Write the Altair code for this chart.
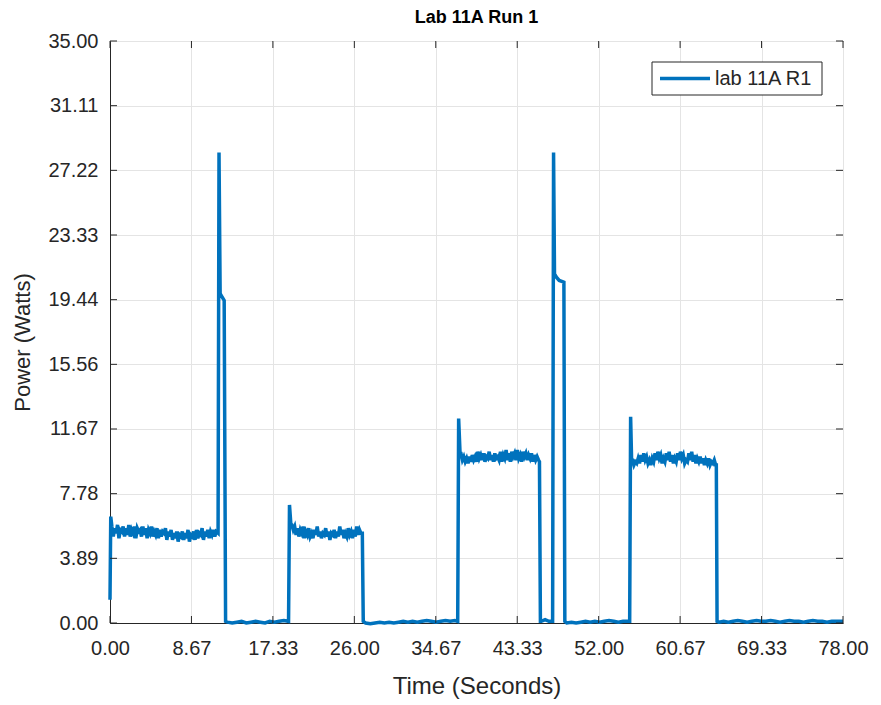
import altair as alt
import pandas as pd

# ---------------- data ----------------
series_name = "lab 11A R1"

x_ticks = [0.0, 8.6667, 17.3333, 26.0, 34.6667, 43.3333, 52.0, 60.6667, 69.3333, 78.0]
y_ticks = [0.0, 3.8889, 7.7778, 11.6667, 15.5556, 19.4444, 23.3333, 27.2222, 31.1111, 35.0]

# transition points (time s, power W)
edge_t = [0.0, 0.08, 11.5, 11.6, 11.72, 12.15, 12.3,
          19.0, 19.1, 19.25, 26.85, 26.95,
          37.0, 37.1, 37.25, 45.7, 45.8,
          47.1, 47.2, 47.3, 47.5, 47.8, 48.3, 48.4,
          55.3, 55.4, 55.5, 64.52, 64.6, 78.0]
edge_p = [1.4, 6.4, 5.4, 28.3, 19.8, 19.4, 0.1,
          0.1, 7.1, 5.9, 5.4, 0.1,
          0.1, 12.3, 10.2, 9.7, 0.1,
          0.1, 28.3, 21.0, 20.8, 20.6, 20.5, 0.1,
          0.1, 12.4, 9.9, 9.5, 0.1, 0.1]

# sampled stretches: (start time, sample interval, values)
plateau1_start, plateau1_dt = 0.2, 0.15
plateau1 = [5.8, 5.2, 5.7, 5.4, 5.9, 5.1, 5.6, 5.5, 5.8, 5.2,
            5.7, 5.3, 5.9, 5.2, 5.6, 5.4, 5.8, 5.1, 5.7, 5.5,
            5.6, 5.2, 5.8, 5.3, 5.7, 5.1, 5.6, 5.4, 5.8, 5.2,
            5.5, 5.3, 5.7, 5.1, 5.6, 5.2, 5.5, 5.4, 5.7, 5.0,
            5.5, 5.2, 5.6, 5.0, 5.4, 5.1, 5.5, 4.9, 5.3, 5.2,
            5.5, 5.0, 5.4, 5.1, 5.6, 4.9, 5.3, 5.2, 5.5, 5.0,
            5.6, 5.1, 5.4, 5.3, 5.7, 5.0, 5.5, 5.2, 5.6, 5.1,
            5.5, 5.3, 5.6, 5.2, 5.5]
idle1_start, idle1_dt = 12.5, 0.5
idle1 = [0.05, 0.0, 0.05, 0.1, 0.0, 0.05, 0.1, 0.05, 0.0, 0.1, 0.05, 0.1, 0.15]
plateau2_start, plateau2_dt = 19.35, 0.15
plateau2 = [5.9, 5.6, 5.8, 5.3, 5.7, 5.2, 5.6, 5.4, 5.8, 5.1,
            5.5, 5.3, 5.7, 5.2, 5.4, 5.1, 5.6, 5.3, 5.8, 5.2,
            5.5, 5.1, 5.4, 5.3, 5.7, 5.2, 5.5, 5.0, 5.4, 5.3,
            5.6, 5.1, 5.5, 5.2, 5.8, 5.3, 5.6, 5.1, 5.4, 5.2,
            5.7, 5.3, 5.5, 5.1, 5.6, 5.2, 5.8, 5.3, 5.6, 5.4]
idle2_start, idle2_dt = 27.2, 0.5
idle2 = [0.0, -0.05, 0.0, 0.05, 0.0, 0.05, 0.0, 0.05, 0.1, 0.05, 0.1, 0.05,
         0.1, 0.15, 0.1, 0.05, 0.1, 0.15, 0.1, 0.15]
plateau3_start, plateau3_dt = 37.35, 0.15
plateau3 = [10.2, 9.8, 10.0, 9.7, 9.9, 9.6, 10.0, 9.7, 10.1, 9.8,
            10.0, 9.7, 10.3, 9.9, 10.1, 9.8, 10.2, 9.7, 10.0, 9.9,
            10.3, 9.8, 10.1, 9.7, 10.2, 9.9, 10.0, 9.8, 10.3, 9.7,
            10.1, 9.9, 10.4, 9.8, 10.2, 9.7, 10.3, 10.0, 10.2, 9.8,
            10.4, 9.9, 10.1, 9.7, 10.3, 10.0, 10.2, 9.8, 10.1, 9.9,
            10.2, 9.7, 10.1, 9.8, 10.0, 9.8]
idle3_start, idle3_dt = 45.9, 0.4
idle3 = [0.1, 0.2, 0.1]
idle4_start, idle4_dt = 48.6, 0.5
idle4 = [0.0, 0.05, 0.0, 0.05, 0.1, 0.05, 0.1, 0.05, 0.1, 0.15, 0.1, 0.05, 0.1, 0.1]
plateau4_start, plateau4_dt = 55.6, 0.15
plateau4 = [9.8, 9.5, 9.7, 9.6, 9.9, 9.6, 10.1, 9.7, 10.2, 9.8,
            10.0, 9.6, 9.8, 9.5, 9.9, 9.7, 10.2, 9.8, 10.3, 9.9,
            10.1, 9.6, 9.9, 9.7, 10.2, 9.8, 10.3, 9.7, 10.1, 9.6,
            9.9, 9.7, 10.2, 9.8, 10.3, 9.9, 10.1, 9.6, 9.8, 9.7,
            10.2, 9.8, 10.3, 9.7, 10.1, 9.6, 9.9, 9.7, 10.0, 9.6,
            9.9, 9.5, 9.8, 9.6, 9.9, 9.5, 9.7, 9.6, 9.8, 9.5]
idle5_start, idle5_dt = 64.8, 0.5
idle5 = [0.05, 0.1, 0.05, 0.1, 0.15, 0.1, 0.05, 0.1, 0.15, 0.1, 0.1, 0.15, 0.1,
         0.05, 0.1, 0.15, 0.1, 0.1, 0.05, 0.1, 0.15, 0.1, 0.1, 0.05, 0.1, 0.1, 0.1]

stretches = [
    (plateau1_start, plateau1_dt, plateau1),
    (idle1_start, idle1_dt, idle1),
    (plateau2_start, plateau2_dt, plateau2),
    (idle2_start, idle2_dt, idle2),
    (plateau3_start, plateau3_dt, plateau3),
    (idle3_start, idle3_dt, idle3),
    (idle4_start, idle4_dt, idle4),
    (plateau4_start, plateau4_dt, plateau4),
    (idle5_start, idle5_dt, idle5),
]

rows = [{"t": t, "p": p} for t, p in zip(edge_t, edge_p)]
for t0, dt, vals in stretches:
    for i, v in enumerate(vals):
        rows.append({"t": round(t0 + i * dt, 4), "p": v})
df = pd.DataFrame(rows).sort_values("t").reset_index(drop=True)

# ---------------- styling ----------------
W, H = 733, 582
FONT = "Liberation Sans"
AX = "#262626"
BLUE = "#0072BD"
TICK = 7
LW = 3.5

x_scale = alt.Scale(domain=[0, 78], nice=False, zero=False)
y_scale = alt.Scale(domain=[0, 35], nice=False, zero=False)

x_axis = alt.Axis(values=x_ticks, format=".2f", title="Time (Seconds)",
                  grid=True, gridColor="#e4e4e4", ticks=False,
                  labelPadding=15, labelFontSize=20, labelFont=FONT,
                  labelColor=AX, domainColor=AX, labelFlush=False,
                  titleFontSize=24, titleFont=FONT, titleFontWeight="normal",
                  titleColor=AX, titleX=W / 2, titleY=63,
                  titleBaseline="middle", titleAnchor="middle")
y_axis = alt.Axis(values=y_ticks, format=".2f", title="Power (Watts)",
                  grid=True, gridColor="#e4e4e4", ticks=False,
                  labelPadding=12, labelFontSize=20, labelFont=FONT,
                  labelColor=AX, domainColor=AX, labelFlush=False,
                  titleFontSize=22, titleFont=FONT, titleFontWeight="normal",
                  titleColor=AX, titleX=-88, titleY=H / 2 + 10, titleAngle=-90,
                  titleBaseline="middle", titleAnchor="middle")

line = alt.Chart(df).mark_line(strokeWidth=LW, color=BLUE, clip=False).encode(
    x=alt.X("t:Q", scale=x_scale, axis=x_axis),
    y=alt.Y("p:Q", scale=y_scale, axis=y_axis),
)

xt = pd.DataFrame({"t": x_ticks})
yt = pd.DataFrame({"p": y_ticks})

bottom_ticks = alt.Chart(xt).mark_rule(color=AX, strokeWidth=1).encode(
    x=alt.X("t:Q", scale=x_scale, axis=x_axis), y=alt.value(H - TICK), y2=alt.value(H))
top_ticks = alt.Chart(xt).mark_rule(color=AX, strokeWidth=1).encode(
    x=alt.X("t:Q", scale=x_scale, axis=x_axis), y=alt.value(0), y2=alt.value(TICK))
left_ticks = alt.Chart(yt).mark_rule(color=AX, strokeWidth=1).encode(
    y=alt.Y("p:Q", scale=y_scale, axis=y_axis), x=alt.value(0), x2=alt.value(TICK))
right_ticks = alt.Chart(yt).mark_rule(color=AX, strokeWidth=1).encode(
    y=alt.Y("p:Q", scale=y_scale, axis=y_axis), x=alt.value(W - TICK), x2=alt.value(W))

# legend box (drawn as a small layered key)
leg = pd.DataFrame({"label": [series_name]})
leg_box = alt.Chart(leg).mark_rect(fill="white", stroke=AX, strokeWidth=1).encode(
    x=alt.value(542), x2=alt.value(712), y=alt.value(21), y2=alt.value(54))
leg_line = alt.Chart(leg).mark_rule(color=BLUE, strokeWidth=LW).encode(
    x=alt.value(550), x2=alt.value(600), y=alt.value(37.5))
leg_text = alt.Chart(leg).mark_text(align="left", baseline="middle", fontSize=20,
                                    font=FONT, color=AX).encode(
    x=alt.value(605), y=alt.value(38), text="label:N")

chart = alt.layer(line, bottom_ticks, top_ticks, left_ticks, right_ticks,
                  leg_box, leg_line, leg_text).properties(
    width=W, height=H,
    title=alt.TitleParams("Lab 11A Run 1", fontSize=18, fontWeight="bold", font=FONT,
                          color="black", anchor="middle", offset=4),
    autosize=alt.AutoSizeParams(type="none"),
    padding={"left": 110, "top": 41, "right": 38, "bottom": 82},
    background="white",
).configure_view(stroke=AX, strokeWidth=1)

chart.save("out.html", embed_options={"renderer": "svg", "actions": False})
